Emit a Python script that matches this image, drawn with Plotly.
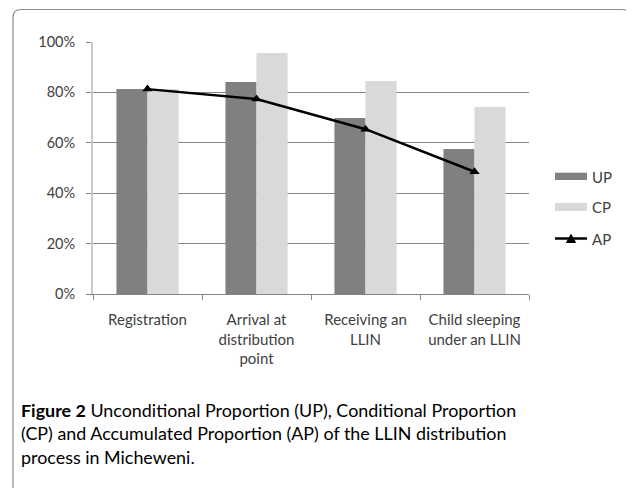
import plotly.graph_objects as go

categories = ["Registration", "Arrival at<br>distribution<br>point", "Receiving an<br>LLIN", "Child sleeping<br>under an LLIN"]
up_values = [0.813, 0.841, 0.698, 0.575]
cp_values = [0.813, 0.956, 0.845, 0.742]
ap_values = [0.813, 0.774, 0.654, 0.485]
y_ticks = [0, 0.2, 0.4, 0.6, 0.8, 1.0]
y_tick_labels = ["0%", "20%", "40%", "60%", "80%", "100%"]

UP_COLOR = "#808080"
CP_COLOR = "#D9D9D9"
TXT = "#404040"
GRID = "#868686"

fig = go.Figure()
fig.add_trace(go.Bar(x=categories, y=up_values, name="UP", marker=dict(color=UP_COLOR, line=dict(width=0))))
fig.add_trace(go.Bar(x=categories, y=cp_values, name="CP", marker=dict(color=CP_COLOR, line=dict(width=0))))
fig.add_trace(go.Scatter(x=categories, y=ap_values, name="AP", mode="lines+markers",
                         line=dict(color="black", width=2.5),
                         marker=dict(symbol="triangle-up", size=9, color="black")))

OFF = 8  # page body margin
W, H = 634, 488
# plot area in screen pixels
SX0, SX1, SY0, SY1 = 93, 529, 42, 294
L = SX0 - OFF
T = SY0 - OFF
R = W - (SX1 - OFF)
B = H - (SY1 - OFF)
pw, ph = SX1 - SX0, SY1 - SY0

def px(x):
    return (x - SX0) / pw

def py(y):
    return (SY1 - y) / ph

shapes = []
# outer rounded frame (left/top/right edges)
lx, tx, rx, by = px(13), py(9.5), px(630), py(520)
rxp, ryp = 8 / pw, 8 / ph
path = (f"M {lx},{by} L {lx},{tx - ryp} Q {lx},{tx} {lx + rxp},{tx} "
        f"L {rx - rxp},{tx} Q {rx},{tx} {rx},{tx - ryp} L {rx},{by}")
shapes.append(dict(type="path", xref="paper", yref="paper", path=path,
                   line=dict(color="#8c8c8c", width=1.2)))
# manual legend
shapes.append(dict(type="rect", xref="paper", yref="paper", x0=px(555), x1=px(587),
                   y0=py(180), y1=py(172.7), fillcolor=UP_COLOR, line=dict(width=0)))
shapes.append(dict(type="rect", xref="paper", yref="paper", x0=px(555), x1=px(587),
                   y0=py(211), y1=py(203), fillcolor=CP_COLOR, line=dict(width=0)))
shapes.append(dict(type="line", xref="paper", yref="paper", x0=px(555), x1=px(587),
                   y0=py(238.5), y1=py(238.5), line=dict(color="black", width=2.5)))
tri = f"M {px(566.5)},{py(242.5)} L {px(575.5)},{py(242.5)} L {px(571)},{py(234.5)} Z"
shapes.append(dict(type="path", xref="paper", yref="paper", path=tri,
                   fillcolor="black", line=dict(color="black", width=1)))

annotations = []
for lbl, yy in [("UP", 176.5), ("CP", 207), ("AP", 238.5)]:
    annotations.append(dict(xref="paper", yref="paper", x=px(590), y=py(yy), text=lbl,
                            showarrow=False, xanchor="left", yanchor="middle",
                            font=dict(family="Lato", size=15, color=TXT)))
annotations.append(dict(xref="paper", yref="paper", x=px(19), y=py(433),
                        text="<b>Figure 2</b> Unconditional Proportion (UP), Conditional Proportion<br>"
                             "(CP) and Accumulated Proportion (AP) of the LLIN distribution<br>"
                             "process in Micheweni.",
                        showarrow=False, xanchor="left", yanchor="middle", align="left",
                        font=dict(family="Lato", size=17.9, color="black")))

fig.update_layout(
    width=W, height=H,
    margin=dict(l=L, r=R, t=T, b=B, pad=0),
    paper_bgcolor="white", plot_bgcolor="white",
    barmode="group", bargap=0.43, bargroupgap=0,
    showlegend=False,
    shapes=shapes, annotations=annotations,
    font=dict(family="Lato", size=14, color=TXT),
)
fig.update_xaxes(
    showline=True, linecolor=GRID, linewidth=1,
    ticks="outside", tickson="boundaries", ticklen=5, tickcolor=GRID,
    tickfont=dict(family="Lato", size=15, color=TXT),
    ticklabelstandoff=12,
    showgrid=False, zeroline=False,
)
fig.update_yaxes(
    range=[0, 1], tickvals=y_ticks, ticktext=y_tick_labels,
    showgrid=True, gridcolor=GRID, gridwidth=1,
    showline=True, linecolor="#c8c8c8", linewidth=2,
    ticks="outside", ticklen=5, tickcolor=GRID,
    tickfont=dict(family="Lato", size=14.5, color=TXT),
    ticklabelstandoff=8,
    zeroline=False,
)

fig.write_html("out.html")
